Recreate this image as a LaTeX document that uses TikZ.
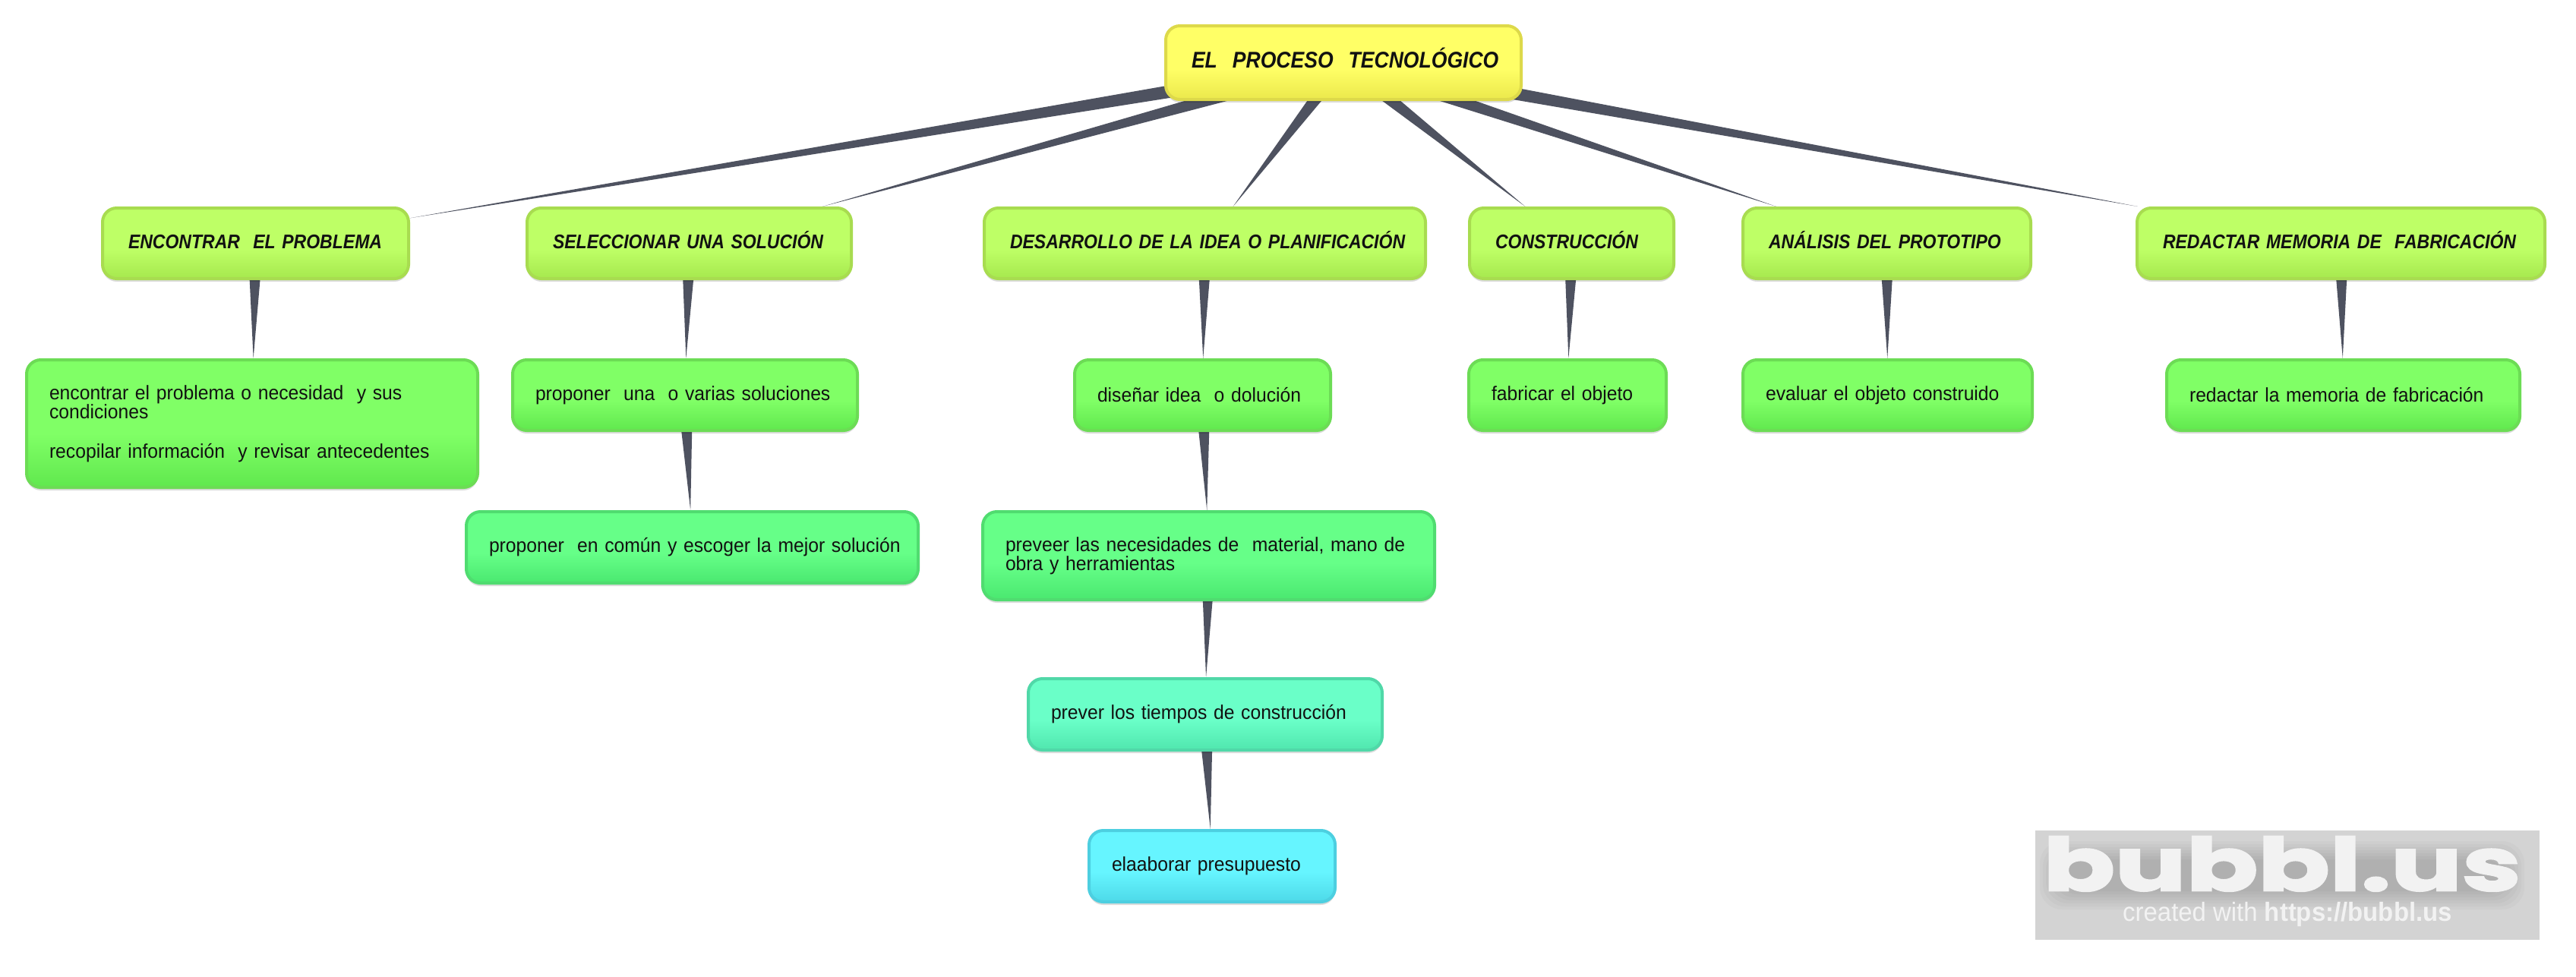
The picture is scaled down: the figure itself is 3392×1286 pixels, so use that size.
\documentclass[tikz,border=0pt]{standalone}
\usepackage{fontspec}
\setmainfont[FakeStretch=0.95,BoldItalicFeatures={FakeStretch=0.885}]{Liberation Sans}
\usetikzlibrary{calc,shadows,backgrounds}
\newfontfamily\logofont[FakeStretch=1.45,FakeBold=3]{Poppins Bold}
% shading: light colour on top part, darkening to the lower edge
\newcommand\mkshade[3]{%
  \definecolor{#1L}{HTML}{#2}\definecolor{#1D}{HTML}{#3}%
  \pgfdeclareverticalshading{#1S}{100bp}{color(0bp)=(#1D); color(25bp)=(#1D); color(46bp)=(#1L); color(100bp)=(#1L)}}
\mkshade{yel}{FFFF66}{EBE84C}
\mkshade{lim}{BEFF66}{A6E84E}
\mkshade{grn}{80FF66}{60E84E}
\mkshade{mnt}{66FF88}{4AE870}
\mkshade{aqu}{6AFFC8}{50E6AE}
\mkshade{cya}{66F5FF}{4DD9E8}
\definecolor{yelB}{HTML}{DDD94A}
\definecolor{limB}{HTML}{A8DC50}
\definecolor{grnB}{HTML}{6CDC55}
\definecolor{mntB}{HTML}{50DC70}
\definecolor{aquB}{HTML}{50D8A8}
\definecolor{cyaB}{HTML}{4DCFE0}
\definecolor{linkc}{HTML}{4E5260}
\definecolor{inkc}{HTML}{111111}
\definecolor{logobg}{HTML}{D3D3D3}
\definecolor{logofg}{HTML}{F2F2F2}
\tikzset{
  x=0.75pt,y=-0.75pt,
  bubble/.style={rounded corners=14pt,line width=3pt,text=inkc,inner xsep=0pt,inner ysep=0pt,
    align=left,font=\fontsize{19.5}{19.1}\selectfont,
    drop shadow={shadow xshift=0pt,shadow yshift=-3pt,fill=black,opacity=.14}},
  rootbox/.style={bubble,shading=yelS,draw=yelB,font=\fontsize{22.5}{24}\selectfont\bfseries\itshape},
  headbox/.style={bubble,shading=limS,draw=limB,font=\fontsize{19.5}{24}\selectfont\bfseries\itshape},
  greenbox/.style={bubble,shading=grnS,draw=grnB},
  mintbox/.style={bubble,shading=mntS,draw=mntB},
  aquabox/.style={bubble,shading=aquS,draw=aquB},
  cyanbox/.style={bubble,shading=cyaS,draw=cyaB},
  link/.style={fill=linkc},
  logotext/.style={text=logofg,inner sep=0pt,anchor=base},
  halo/.style={fill=black,opacity=.022,rounded corners=22pt}
}
\newcommand\lin[1]{\mbox{#1}}
\newcommand\hlin[1]{\raisebox{-5.6pt}[0pt][0pt]{#1}}
% name, style, x1, y1, x2, y2, text (left edge of text 24pt inside the outer edge)
\newcommand\bx[7]{%
  \pgfmathsetmacro\cxx{(#3+#5)/2}\pgfmathsetmacro\cyy{(#4+#6)/2}%
  \pgfmathsetlengthmacro\tww{(#5-#3)*0.75pt-48pt}%
  \node[#2,text width=\tww,minimum width={(#5-#3-4)*0.75pt},minimum height={(#6-#4-4)*0.75pt}] (#1) at (\cxx,\cyy) {#7};}
% same, text 27pt inside (root and heading boxes)
\newcommand\hx[7]{%
  \pgfmathsetmacro\cxx{(#3+#5)/2}\pgfmathsetmacro\cyy{(#4+#6)/2}%
  \pgfmathsetlengthmacro\tww{(#5-#3)*0.75pt-54pt}%
  \node[#2,text width=\tww,minimum width={(#5-#3-4)*0.75pt},minimum height={(#6-#4-4)*0.75pt}] (#1) at (\cxx,\cyy) {\hlin{#7}};}
% tapered connector: wide at the centre of the parent, pointed on the child's border
\newcommand\conn[2]{%
  \path (#1.center) -- (#2) coordinate[pos=1] (tip#2);
  \fill[link] ($(#1.center)!7.6pt!90:(tip#2)$) -- (tip#2) -- ($(#1.center)!7.6pt!-90:(tip#2)$) -- cycle;}
\begin{document}
\begin{tikzpicture}
\useasboundingbox (0,0) rectangle (3392,1286);
\hx{root}{rootbox}{1533}{32}{2005}{133}{EL\ \ PROCESO\ \ TECNOLÓGICO}
\hx{h1}{headbox}{133}{272}{540}{369}{ENCONTRAR\ \ EL PROBLEMA}
\hx{h2}{headbox}{692}{272}{1123}{369}{SELECCIONAR UNA SOLUCIÓN}
\hx{h3}{headbox}{1294}{272}{1879}{369}{DESARROLLO DE LA IDEA O PLANIFICACIÓN}
\hx{h4}{headbox}{1933}{272}{2206}{369}{CONSTRUCCIÓN}
\hx{h5}{headbox}{2293}{272}{2676}{369}{ANÁLISIS DEL PROTOTIPO}
\hx{h6}{headbox}{2812}{272}{3353}{369}{REDACTAR MEMORIA DE\ \ FABRICACIÓN}
\bx{a1}{greenbox}{33}{472}{631}{644}{\lin{encontrar el problema o necesidad\ \ y sus}\\\lin{condiciones}\\[19.5pt]\lin{recopilar información\ \ y revisar antecedentes}}
\bx{a2}{greenbox}{673}{472}{1131}{569}{\lin{proponer\ \ una\ \ o varias soluciones}}
\bx{b2}{mintbox}{612}{672}{1211}{770}{\lin{proponer\ \ en común y escoger la mejor solución}}
\bx{a3}{greenbox}{1413}{472}{1754}{569}{\lin{diseñar idea\ \ o dolución}}
\bx{b3}{mintbox}{1292}{672}{1891}{792}{\lin{preveer las necesidades de\ \ material, mano de}\\\lin{obra y herramientas}}
\bx{c3}{aquabox}{1352}{892}{1822}{990}{\lin{prever los tiempos de construcción}}
\bx{d3}{cyanbox}{1432}{1092}{1760}{1190}{\lin{elaaborar presupuesto}}
\bx{a4}{greenbox}{1932}{472}{2196}{569}{\lin{fabricar el objeto}}
\bx{a5}{greenbox}{2293}{472}{2678}{569}{\lin{evaluar el objeto construido}}
\bx{a6}{greenbox}{2851}{472}{3320}{569}{\lin{redactar la memoria de fabricación}}
\begin{pgfonlayer}{background}
\fill[white] (0,0) rectangle (3392,1286);
\conn{root}{h1}\conn{root}{h2}\conn{root}{h3}\conn{root}{h4}\conn{root}{h5}\conn{root}{h6}
\conn{h1}{a1}\conn{h2}{a2}\conn{a2}{b2}
\conn{h3}{a3}\conn{a3}{b3}\conn{b3}{c3}\conn{c3}{d3}
\conn{h4}{a4}\conn{h5}{a5}\conn{h6}{a6}
\end{pgfonlayer}
% watermark
\fill[logobg] (2680,1094) rectangle (3344,1238);
\foreach \d in {0,4,...,24}{\fill[halo] (2686+\d,1108+\d) rectangle (3324-\d,1198-\d);}
\node[logotext,font=\logofont\fontsize{72}{72}\selectfont] (logo) at (3005,1173) {bubbl.us};
\node[logotext,font=\fontsize{26}{26}\selectfont] (made) at (3012,1213) {created with \textbf{https://bubbl.us}};
\end{tikzpicture}
\end{document}
